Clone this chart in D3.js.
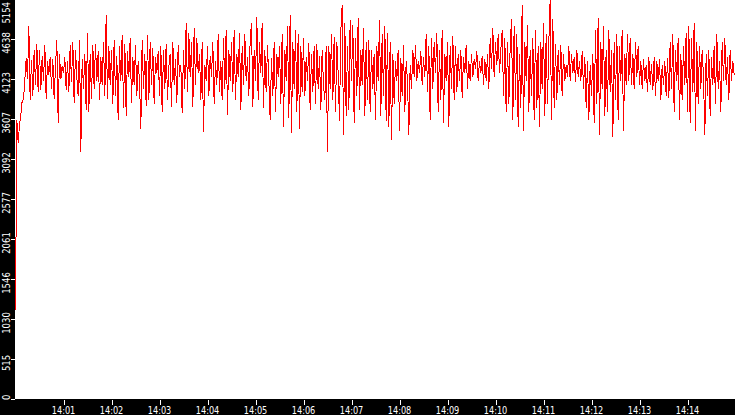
<!DOCTYPE html>
<html>
<head>
<meta charset="utf-8">
<script src="https://cdn.jsdelivr.net/npm/d3@7"></script>
<style>
  html, body { margin: 0; padding: 0; background: #fff; }
  svg { display: block; }
  text { font-family: "DejaVu Sans", sans-serif; font-size: 10px; fill: #fff; }
</style>
</head>
<body>
<div id="chart"></div>
<script>
// Data: one sample every 1 2/3 s starting at 14:00:00
const startTime = new Date(2020, 0, 1, 14, 0, 0);
const endTime = new Date(2020, 0, 1, 14, 15, 0);
const stepMs = 5000 / 3;
const yMax = 5154;

const counts = [
  1150, 3595, 3300, 3530, 3659, 3840, 3860, 4110, 4390, 4120, 4810, 3853, 4368, 3900, 4500, 4050, 4580, 3950,
  4500, 3980, 4420, 4100, 4560, 3870, 4350, 4180, 4400, 4000, 4380, 3860, 4300, 4620, 3560, 4450, 4120, 4290,
  4200, 4400, 3980, 4350, 3950, 4560, 4080, 4600, 3810, 4500, 4150, 3900, 4620, 3183, 4380, 4000, 4450, 3720,
  4716, 3700, 4450, 3870, 4560, 4000, 4580, 4100, 4480, 3850, 4400, 4050, 4600, 3900, 4948, 3860, 4550, 4050,
  4500, 3800, 4620, 3900, 4420, 3600, 4550, 4100, 4690, 3750, 4580, 3650, 4480, 4150, 4650, 3820, 4400, 4050,
  4560, 3900, 4350, 4100, 3480, 4620, 4000, 4450, 3780, 4690, 3850, 4600, 4050, 4520, 3800, 4400, 4200, 4480,
  3900, 4550, 3700, 4500, 4000, 4580, 3850, 4280, 4450, 3760, 4600, 4050, 4380, 3820, 4560, 4150, 4300, 3680,
  4500, 4000, 4850, 3950, 4720, 4150, 4600, 3760, 4780, 4050, 4650, 4200, 4450, 3850, 4600, 3440, 4300, 4100,
  4550, 3900, 4420, 4150, 4600, 3800, 4350, 4050, 4700, 3950, 4350, 3850, 4650, 4000, 4760, 3660, 4500, 4100,
  4600, 3950, 4750, 3850, 4450, 4150, 4720, 3720, 4550, 4050, 4700, 4100, 4400, 3900, 4620, 4850, 3760, 4500,
  4100, 4920, 3850, 4600, 4200, 4850, 3750, 4500, 3950, 4560, 4100, 3600, 4400, 3900, 4600, 3700, 4450, 4150,
  4550, 3800, 4700, 3500, 4500, 4100, 4800, 3620, 4950, 3430, 4600, 4000, 4750, 3700, 4700, 3480, 4550, 3950,
  4650, 3900, 4400, 4100, 4590, 3720, 4450, 3950, 4550, 3800, 4580, 4000, 4420, 3720, 4500, 4050, 3850, 4550,
  3183, 4550, 4000, 4700, 3850, 4660, 3700, 4600, 4200, 3580, 4750, 5077, 3400, 4850, 3650, 4550, 3720, 4880,
  4100, 4820, 3560, 4650, 3900, 4910, 3720, 4500, 4050, 4780, 3650, 4600, 3850, 4620, 3700, 4500, 4000, 4450,
  3600, 4550, 4100, 4880, 3650, 4700, 3900, 4800, 3580, 4720, 3500, 4600, 3340, 4450, 3800, 4350, 4100, 4500,
  3450, 4400, 3900, 4560, 3700, 4350, 4100, 3400, 4300, 4000, 4500, 4150, 4560, 4100, 4350, 4200, 4480, 4050,
  4400, 4150, 4700, 3950, 4550, 3600, 4650, 4000, 4600, 4200, 4720, 3700, 4500, 3850, 4750, 3560, 4450, 4100,
  4600, 3500, 4550, 4000, 4680, 3850, 4550, 3950, 4450, 4100, 4500, 3880, 4400, 4200, 4560, 4000, 4350, 4100,
  4450, 4150, 4380, 4250, 4480, 4100, 4350, 4200, 4420, 4050, 4380, 4100, 4450, 4000, 4650, 4250, 4780, 4150,
  4600, 4300, 4700, 4200, 4500, 4750, 3900, 4650, 3700, 4600, 3800, 4550, 4900, 3600, 4800, 3850, 4700, 3500,
  4450, 3750, 5077, 3450, 4600, 4100, 4820, 3700, 4500, 3900, 4650, 3600, 4750, 3750, 4550, 3500, 4600, 4000,
  4850, 3650, 4700, 3800, 4600, 5154, 3600, 4900, 3750, 4580, 3850, 4500, 4050, 4560, 3900, 4450, 4100, 4300,
  4150, 4550, 4100, 4450, 4200, 4400, 4080, 4500, 4150, 4350, 4100, 4480, 4000, 4400, 3750, 4350, 3600, 4300,
  3900, 4450, 3550, 4750, 3800, 4910, 3400, 4600, 4000, 4800, 3650, 4500, 3700, 4750, 3950, 4500, 3380, 4600,
  3850, 4700, 3600, 4550, 4100, 4750, 3450, 4450, 4050, 4700, 4100, 4650, 4050, 4450, 4000, 4600, 4150, 4550,
  4050, 4350, 4000, 4380, 4100, 4300, 3950, 4400, 4050, 4320, 3980, 4400, 3900, 4350, 4100, 4380, 3850, 4300,
  4050, 4350, 3900, 4400, 3880, 4600, 4000, 4700, 3700, 4500, 4100, 4650, 3600, 4450, 3850, 4550, 4050, 4720,
  3700, 4800, 3550, 4650, 3950, 4850, 3450, 4600, 3800, 4550, 4000, 4500, 4150, 3400, 4450, 3900, 4500, 3650,
  4400, 4050, 4550, 3800, 4700, 4000, 4350, 3700, 4600, 4100, 4650, 4050, 4400, 3850, 4500, 4100, 4350, 4175
];

// Tick labels
const xTickLabels = ['14:01', '14:02', '14:03', '14:04', '14:05', '14:06', '14:07',
                     '14:08', '14:09', '14:10', '14:11', '14:12', '14:13', '14:14'];
const yTickLabels = ['0', '515', '1030', '1546', '2061', '2577', '3092', '3607', '4123', '4638', '5154'];

// Dimensions
const dims = {width: 735, height: 415};
const axisW = 15;
const axisTop = 399;

const svg = d3.select('#chart')
  .append('svg')
  .attr('width', dims.width)
  .attr('height', dims.height);

svg.append('rect')
  .attr('width', dims.width)
  .attr('height', dims.height)
  .attr('fill', '#fff');

// Scales
const x = d3.scaleTime()
  .domain([startTime, endTime])
  .range([15.5, 735.5]);

const y = d3.scaleLinear()
  .domain([0, yMax])
  .range([axisTop, -1]);

const parseTick = d3.timeParse('%H:%M');
const tickTime = s => {
  const t = parseTick(s);
  return new Date(startTime.getFullYear(), startTime.getMonth(), startTime.getDate(), t.getHours(), t.getMinutes());
};

// Line
const series = counts.map((v, i) => ({t: new Date(startTime.getTime() + i * stepMs), v: v}));

const line = d3.line()
  .x(d => x(d.t))
  .y(d => y(d.v));

svg.append('path')
  .datum(series)
  .attr('fill', 'none')
  .attr('stroke', '#ff0000')
  .attr('stroke-width', 1)
  .attr('shape-rendering', 'crispEdges')
  .attr('d', line);

// Axis strips
svg.append('rect')
  .attr('x', 0).attr('y', 0)
  .attr('width', axisW).attr('height', dims.height)
  .attr('fill', '#000');

svg.append('rect')
  .attr('x', 0).attr('y', axisTop)
  .attr('width', dims.width).attr('height', dims.height - axisTop)
  .attr('fill', '#000');

// X axis
const xAxis = svg.append('g').attr('class', 'x-axis');
const xTick = xAxis.selectAll('g')
  .data(xTickLabels)
  .enter()
  .append('g')
  .attr('transform', d => `translate(${Math.round(x(tickTime(d))) + 0.5}, ${axisTop})`);

xTick.append('line')
  .attr('y1', 1).attr('y2', 6)
  .attr('stroke', '#fff');

xTick.append('text')
  .attr('transform', 'translate(-1, 14.5) scale(0.82, 1)')
  .attr('text-anchor', 'middle')
  .text(d => d);

// Y axis
const yAxis = svg.append('g').attr('class', 'y-axis');
const yTick = yAxis.selectAll('g')
  .data(yTickLabels)
  .enter()
  .append('g');

yTick.append('line')
  .attr('x1', 11).attr('x2', axisW)
  .attr('y1', (d, i) => Math.round(y(yMax * i / 10)) + 0.5)
  .attr('y2', (d, i) => Math.round(y(yMax * i / 10)) + 0.5)
  .attr('stroke', '#fff');

yTick.append('text')
  .attr('text-anchor', 'middle')
  .attr('transform', (d, i) => {
    const half = d.length * 2.7;
    let cy = y(yMax * i / 10) + 4;
    cy = Math.max(2 + half, Math.min(400 - half, cy));
    return `translate(10, ${cy}) rotate(-90) scale(0.85, 1)`;
  })
  .text(d => d);
</script>
</body>
</html>
